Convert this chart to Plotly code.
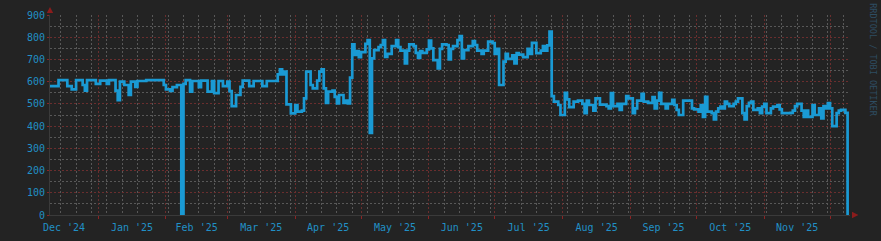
import pandas as pd
import plotly.graph_objects as go

# Step-change points: day offset from 2024-12-10 and value at that day
step_day = [
    0, 4, 8, 10, 12, 15, 16, 17, 21, 23, 26, 27, 30, 31, 32, 34, 36, 37, 39, 40,
    44, 52, 53, 55, 56, 58, 60, 61, 62, 64, 65, 68, 69, 72, 74, 75, 77, 79, 81, 82,
    83, 85, 87, 88, 91, 93, 97, 99, 104, 105, 106, 107, 108, 110, 112, 113, 115, 116, 117, 119,
    120, 122, 123, 124, 125, 126, 127, 129, 130, 131, 132, 134, 135, 136, 137, 138, 139, 140, 141, 142,
    144, 145, 146, 147, 148, 150, 151, 152, 153, 154, 156, 158, 159, 160, 162, 163, 164, 166, 167, 168,
    169, 170, 172, 173, 174, 175, 177, 178, 179, 181, 182, 183, 184, 186, 187, 188, 189, 191, 193, 194,
    195, 197, 198, 200, 202, 203, 204, 205, 207, 208, 209, 211, 212, 213, 214, 216, 218, 219, 220, 222,
    224, 225, 226, 227, 228, 229, 230, 232, 233, 235, 236, 237, 239, 241, 243, 244, 245, 246, 248, 249,
    251, 254, 255, 256, 257, 259, 260, 261, 263, 264, 266, 267, 268, 270, 271, 273, 275, 276, 277, 278,
    279, 281, 282, 284, 285, 286, 287, 289, 293, 294, 296, 297, 298, 299, 300, 302, 303, 304, 305, 306,
    307, 308, 309, 310, 312, 313, 314, 316, 317, 318, 319, 320, 321, 323, 324, 325, 326, 327, 329, 330,
    332, 333, 334, 338, 339, 340, 341, 343, 344, 345, 346, 348, 349, 351, 352, 353, 354, 355, 356, 357,
    359, 360, 361, 363, 364,
]
step_value = [
    580, 607, 580, 565, 607, 585, 560, 607, 590, 605, 590, 607, 560, 517, 600, 585, 540, 600, 577, 603,
    607, 585, 565, 558, 575, 585, 0, 590, 607, 555, 603, 575, 605, 555, 603, 548, 603, 580, 600, 557,
    490, 540, 577, 605, 580, 603, 580, 603, 633, 655, 633, 645, 498, 457, 495, 465, 470, 525, 645, 585,
    570, 605, 645, 655, 570, 505, 555, 560, 532, 502, 540, 505, 515, 502, 618, 768, 720, 738, 710, 733,
    770, 787, 370, 705, 742, 755, 765, 787, 712, 725, 760, 787, 755, 740, 682, 740, 768, 760, 730, 707,
    737, 730, 745, 785, 750, 697, 660, 748, 768, 765, 700, 748, 760, 787, 805, 705, 742, 760, 782, 765,
    740, 725, 740, 780, 773, 725, 748, 585, 690, 725, 703, 718, 682, 728, 722, 710, 748, 725, 775, 728,
    740, 760, 740, 763, 825, 535, 510, 495, 450, 550, 520, 485, 510, 515, 500, 458, 515, 495, 470, 525,
    497, 490, 480, 548, 490, 500, 473, 500, 535, 525, 458, 480, 515, 545, 510, 505, 530, 480, 515, 550,
    500, 480, 500, 518, 495, 473, 450, 515, 480, 475, 465, 495, 442, 532, 465, 458, 430, 465, 480, 488,
    480, 510, 500, 490, 500, 510, 525, 458, 430, 490, 505, 510, 473, 480, 458, 488, 500, 458, 480, 488,
    495, 475, 458, 460, 470, 490, 500, 470, 442, 470, 442, 495, 450, 480, 435, 490, 480, 503, 480, 400,
    458, 470, 473, 460, 0,
]

start_date = "2024-12-10"
x_range = ["2024-12-10 02:24", "2025-12-10 02:24"]
y_range = [0, 900]
x_tick_format = "%b '%y"
watermark = "RRDTOOL / TOBI OETIKER"

dates = pd.Timestamp(start_date) + pd.to_timedelta(step_day, unit="D")

BG = "#232323"
LINE = "#1a9ad4"
TXT = "#2190c6"
RED_GRID = "#6a2e2e"
GREY_GRID = "#585858"
MONO = "DejaVu Sans Mono"
DASH = "2px,2px"

fig = go.Figure()
fig.add_trace(go.Scatter(
    x=dates, y=step_value, mode="lines",
    line=dict(color=LINE, width=2.7, shape="hv"),
    hoverinfo="skip",
))

fig.update_layout(
    width=881, height=241,
    margin=dict(l=50, r=31, t=15, b=26, autoexpand=False),
    paper_bgcolor=BG, plot_bgcolor=BG,
    showlegend=False,
    xaxis=dict(
        type="date", range=x_range,
        dtick="M1", tick0="2024-12-01",
        tickformat=x_tick_format, ticklabelmode="period",
        showgrid=True, gridcolor=RED_GRID, griddash=DASH, gridwidth=1,
        ticks="outside", ticklen=3, tickcolor="#8b2424",
        tickfont=dict(family=MONO, size=10, color=TXT),
        minor=dict(dtick=7 * 86400000, tick0="2024-12-15", showgrid=True,
                   gridcolor=GREY_GRID, griddash=DASH, gridwidth=1),
        zeroline=False, showline=True, linecolor="#3a3a3a",
        fixedrange=True, automargin=False,
    ),
    yaxis=dict(
        range=y_range, dtick=100, tick0=0,
        showgrid=True, gridcolor=RED_GRID, griddash=DASH, gridwidth=1,
        ticks="outside", ticklen=2, tickcolor="#8b2424",
        tickfont=dict(family=MONO, size=10, color=TXT),
        minor=dict(dtick=50, showgrid=True, gridcolor=GREY_GRID,
                   griddash=DASH, gridwidth=1),
        zeroline=False, showline=True, linecolor="#3a3a3a",
        fixedrange=True, automargin=False,
    ),
    annotations=[dict(
        text=watermark, xref="paper", yref="paper",
        x=1.0285, y=0.775, xanchor="center", yanchor="middle",
        textangle=90, showarrow=False,
        font=dict(family=MONO, size=8.5, color="#2e4d62"),
    )],
    shapes=[
        dict(type="path", xref="paper", yref="paper",
             path="M -0.004 1.01 L 0.004 1.01 L 0 1.04 Z",
             fillcolor="#8b1c1c", line=dict(width=0)),
        dict(type="path", xref="paper", yref="paper",
             path="M 1.0025 0.016 L 1.0025 -0.016 L 1.0105 0 Z",
             fillcolor="#8b1c1c", line=dict(width=0)),
    ],
)

fig.write_html("out.html")
